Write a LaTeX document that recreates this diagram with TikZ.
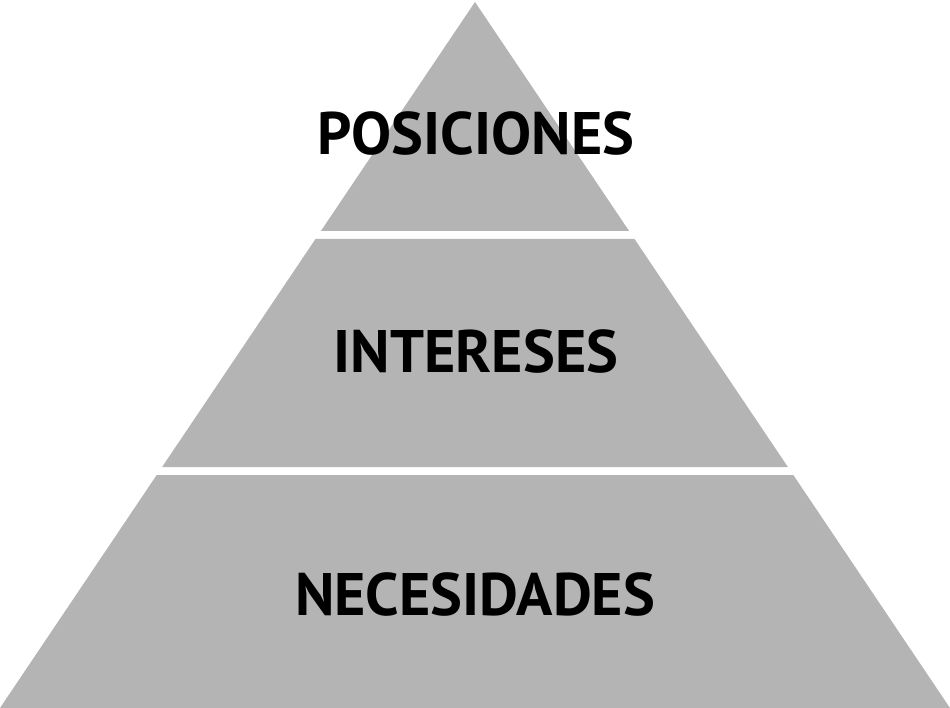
\documentclass[tikz,border=0pt]{standalone}
\usepackage{fontspec}
\setmainfont{PT Sans}
\definecolor{levelgray}{RGB}{180,180,180}
\tikzset{
  level/.style={fill=levelgray},
  label/.style={font=\fontsize{60}{60}\selectfont\bfseries, text=black, inner sep=0pt, anchor=center}
}
\begin{document}
\begin{tikzpicture}[x=1pt,y=-1pt]
\useasboundingbox (0,0) rectangle (950,708);

% pyramid levels
\fill[level] (475,2) -- (629.1,231) -- (320.9,231) -- cycle;
\fill[level] (315.5,239) -- (634.5,239) -- (787.9,467) -- (162.1,467) -- cycle;
\fill[level] (156.7,475) -- (793.3,475) -- (950,708) -- (0,708) -- cycle;

\node[label] (pos) at (476,134) {POSICIONES};
\node[label] (int) at (476,352) {INTERESES};
\node[label] (nec) at (475,594) {NECESIDADES};
\end{tikzpicture}
\end{document}
